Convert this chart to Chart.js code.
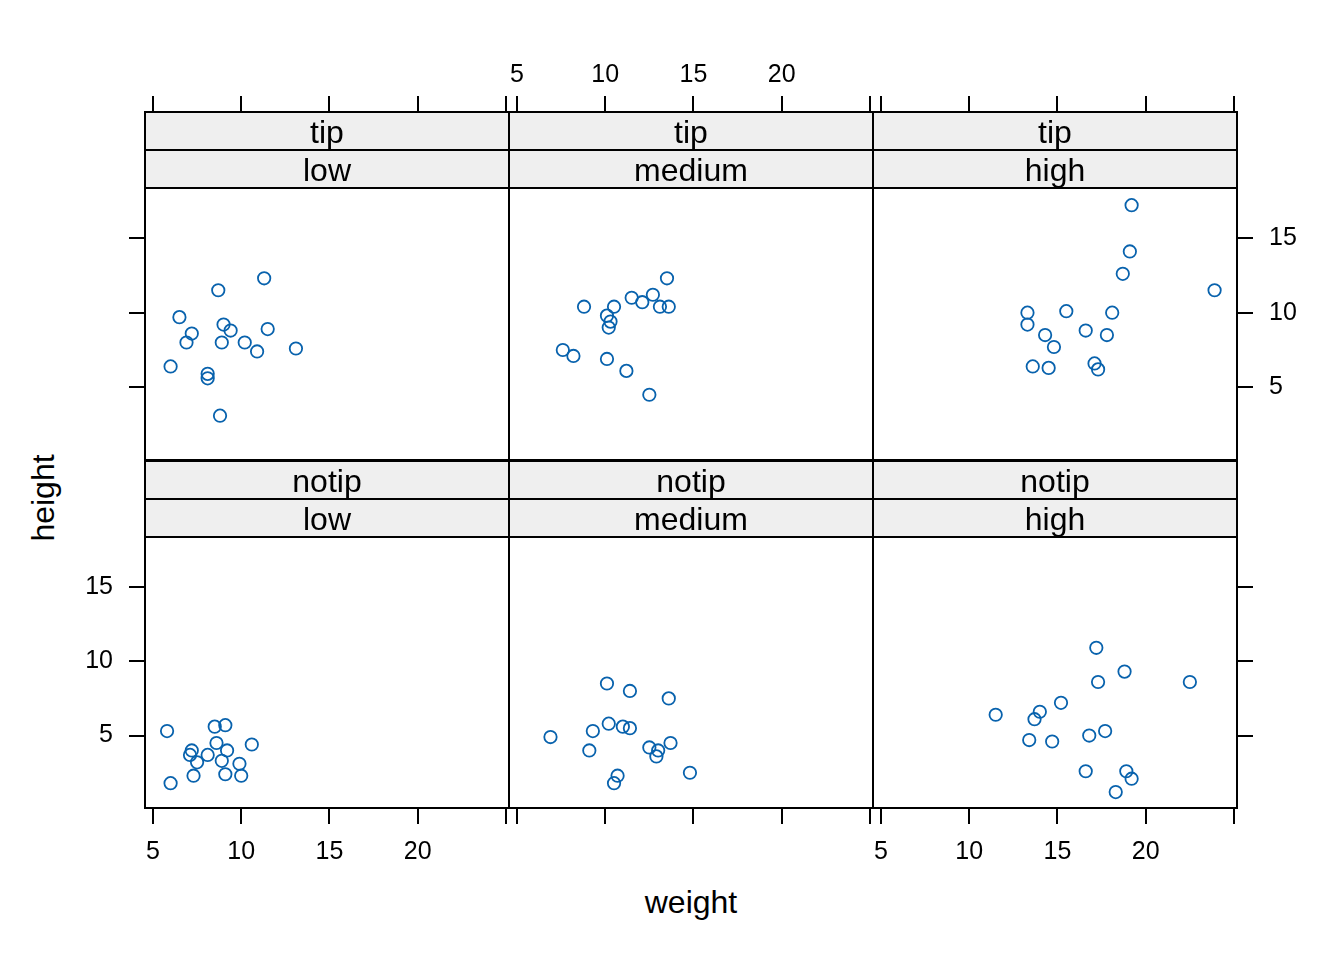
<!DOCTYPE html>
<html>
<head>
<meta charset="utf-8">
<script src="https://cdn.jsdelivr.net/npm/chart.js@4.4.1/dist/chart.umd.min.js"></script>
<style>
  body { margin: 0; background: #fff; width: 1344px; height: 960px; position: relative; overflow: hidden;
         font-family: "Liberation Sans", Arial, sans-serif; }
  canvas { position: absolute; }
  .axis-title { position: absolute; font-size: 32px; line-height: 1; color: #000; white-space: nowrap; }
  #xtitle { left: 691px; top: 902px; transform: translate(-50%, -50%); }
  #ytitle { left: 43px; top: 498px; transform: translate(-50%, -50%) rotate(-90deg); }
</style>
</head>
<body>
<div class="axis-title" id="xtitle">weight</div>
<div class="axis-title" id="ytitle">height</div>
<script>
// factor levels (strip labels)
const tipLevels = ["tip", "notip"];
const sizeLevels = ["low", "medium", "high"];

// tick values / labels
const xTickValues = [5, 10, 15, 20, 25];
const xTickLabels = ["5", "10", "15", "20", ""];
const yTickValues = [5, 10, 15];
const yTickLabels = ["5", "10", "15"];

// data
const tipLowWeight = [11.3, 8.7, 6.5, 9.0, 9.4, 11.5, 7.2, 6.9, 8.9, 10.2, 10.9, 13.1, 6.0, 8.1, 8.1, 8.8];
const tipLowHeight = [12.3, 11.5, 9.7, 9.2, 8.8, 8.9, 8.6, 8.0, 8.0, 8.0, 7.4, 7.6, 6.4, 5.9, 5.6, 3.1];

const tipMediumWeight = [13.5, 8.8, 10.5, 11.5, 12.1, 12.7, 13.1, 13.6, 10.1, 10.3, 10.2, 7.6, 8.2, 10.1, 11.2, 12.5];
const tipMediumHeight = [12.3, 10.4, 10.4, 11.0, 10.7, 11.2, 10.4, 10.4, 9.8, 9.4, 9.0, 7.5, 7.1, 6.9, 6.1, 4.5];

const tipHighWeight = [19.2, 19.1, 18.7, 23.9, 13.3, 15.5, 18.1, 13.3, 16.6, 14.3, 17.8, 14.8, 13.6, 14.5, 17.1, 17.3];
const tipHighHeight = [17.2, 14.1, 12.6, 11.5, 10.0, 10.1, 10.0, 9.2, 8.8, 8.5, 8.5, 7.7, 6.4, 6.3, 6.6, 6.2];

const notipLowWeight = [5.8, 6.0, 8.5, 9.1, 8.6, 10.6, 7.2, 7.1, 8.1, 9.2, 7.5, 8.9, 9.9, 7.3, 9.1, 10.0];
const notipLowHeight = [5.3, 1.8, 5.6, 5.7, 4.5, 4.4, 4.0, 3.7, 3.7, 4.0, 3.2, 3.3, 3.1, 2.3, 2.4, 2.3];

const notipMediumWeight = [10.1, 11.4, 13.6, 10.2, 11.0, 11.4, 9.3, 6.9, 13.7, 12.5, 13.0, 12.9, 9.1, 14.8, 10.7, 10.5];
const notipMediumHeight = [8.5, 8.0, 7.5, 5.8, 5.6, 5.5, 5.3, 4.9, 4.5, 4.2, 4.0, 3.6, 4.0, 2.5, 2.3, 1.8];

const notipHighWeight = [17.2, 18.8, 17.3, 22.5, 15.2, 11.5, 14.0, 13.7, 13.4, 14.7, 16.8, 17.7, 16.6, 18.9, 19.2, 18.3];
const notipHighHeight = [10.9, 9.3, 8.6, 8.6, 7.2, 6.4, 6.6, 6.1, 4.7, 4.6, 5.0, 5.3, 2.6, 2.6, 2.1, 1.2];

const xRange = [4.55, 25.17];
const yRange = [0.13, 18.35];

// layout
const PANEL_LEFT = [145, 509, 873];
const PANEL_W = 364;
const PANEL_TOP = [188, 537];
const PANEL_H = [272, 271];
const STRIP_H = 38;
const AXIS = 60;
const MARGIN = 80;
const POINT_COLOR = "#0862ad";
const FONT = "Liberation Sans";

Chart.defaults.font.family = FONT;

const panelData = [
  [[tipLowWeight, tipLowHeight], [tipMediumWeight, tipMediumHeight], [tipHighWeight, tipHighHeight]],
  [[notipLowWeight, notipLowHeight], [notipMediumWeight, notipMediumHeight], [notipHighWeight, notipHighHeight]]
];

// strips sit between the chart area and the top axis, as a layout box
function stripPlugin(label1, label2) {
  return {
    id: "strips",
    beforeInit(chart) {
      const box = {
        position: "top", weight: -10, fullSize: false, options: {},
        left: 0, top: 0, right: 0, bottom: 0, width: 0, height: 0,
        isHorizontal() { return true; },
        update(maxWidth) { this.width = maxWidth; this.height = 2 * STRIP_H; },
        draw() {
          const ctx = chart.ctx;
          ctx.save();
          [label1, label2].forEach((txt, k) => {
            const y0 = this.top + k * STRIP_H;
            ctx.fillStyle = "#efefef";
            ctx.fillRect(this.left, y0, this.width, STRIP_H);
            ctx.strokeStyle = "#000";
            ctx.lineWidth = 2;
            ctx.strokeRect(this.left, y0, this.width, STRIP_H);
            ctx.fillStyle = "#000";
            ctx.font = "32px '" + FONT + "'";
            ctx.textAlign = "center";
            ctx.textBaseline = "middle";
            ctx.fillText(txt, (this.left + this.right) / 2, y0 + STRIP_H / 2 + 3);
          });
          ctx.restore();
        }
      };
      Chart.layouts.addBox(chart, box);
    }
  };
}

const framePlugin = {
  id: "frame",
  afterDraw(chart) {
    const a = chart.chartArea, ctx = chart.ctx;
    ctx.save();
    ctx.strokeStyle = "#000";
    ctx.lineWidth = 2;
    ctx.strokeRect(a.left, a.top, a.width, a.height);
    ctx.restore();
  }
};

function makePanel(r, c) {
  const hasTop = r === 0, hasBottom = r === 1, hasLeft = c === 0, hasRight = c === 2;
  const showX = (r === 0 && c === 1) || (r === 1 && c !== 1);
  const showY = (c === 0 && r === 1) || (c === 2 && r === 0);
  const [xs, ys] = panelData[r][c];

  const canvas = document.createElement("canvas");
  const w = PANEL_W + 2 * MARGIN;
  const h = PANEL_H[r] + 2 * STRIP_H + 2 * MARGIN;
  canvas.width = w;
  canvas.height = h;
  canvas.style.left = (PANEL_LEFT[c] - MARGIN) + "px";
  canvas.style.top = (PANEL_TOP[r] - 2 * STRIP_H - MARGIN) + "px";
  canvas.style.width = w + "px";
  canvas.style.height = h + "px";
  document.body.appendChild(canvas);

  const tickFont = { family: FONT, size: 25 };
  const gridOpts = { display: true, drawOnChartArea: false, drawTicks: true, tickLength: 16, color: "#000", lineWidth: 2 };

  new Chart(canvas.getContext("2d"), {
    type: "scatter",
    data: {
      datasets: [{
        data: xs.map((x, i) => ({ x: x, y: ys[i] })),
        pointStyle: "circle",
        pointRadius: 6.2,
        pointHoverRadius: 6.2,
        pointBorderWidth: 1.8,
        borderColor: POINT_COLOR,
        backgroundColor: "rgba(0,0,0,0)"
      }]
    },
    options: {
      responsive: false,
      animation: false,
      devicePixelRatio: 1,
      events: [],
      layout: {
        padding: {
          left: MARGIN - (hasLeft ? AXIS : 0),
          right: MARGIN - (hasRight ? AXIS : 0),
          top: MARGIN - (hasTop ? AXIS : 0),
          bottom: MARGIN - (hasBottom ? AXIS : 0)
        }
      },
      plugins: { legend: { display: false }, tooltip: { enabled: false } },
      scales: {
        x: {
          type: "linear",
          position: hasTop ? "top" : "bottom",
          min: xRange[0], max: xRange[1],
          afterBuildTicks: (s) => { s.ticks = xTickValues.map(v => ({ value: v })); },
          afterFit: (s) => { s.height = AXIS; },
          ticks: {
            autoSkip: false, maxRotation: 0, color: "#000", font: tickFont,
            padding: hasTop ? 6 : 13,
            callback: (v) => showX ? xTickLabels[xTickValues.indexOf(v)] : ""
          },
          grid: gridOpts,
          border: { display: false }
        },
        y: {
          type: "linear",
          display: hasLeft || hasRight,
          position: hasRight ? "right" : "left",
          min: yRange[0], max: yRange[1],
          afterBuildTicks: (s) => { s.ticks = yTickValues.map(v => ({ value: v })); },
          afterFit: (hasLeft || hasRight) ? (s) => { s.width = AXIS; } : undefined,
          ticks: {
            autoSkip: false, color: "#000", font: tickFont, padding: 16,
            callback: (v) => showY ? yTickLabels[yTickValues.indexOf(v)] : ""
          },
          grid: gridOpts,
          border: { display: false }
        }
      }
    },
    plugins: [stripPlugin(tipLevels[r], sizeLevels[c]), framePlugin]
  });
}

for (let r = 0; r < 2; r++) {
  for (let c = 0; c < 3; c++) {
    makePanel(r, c);
  }
}
</script>
</body>
</html>
